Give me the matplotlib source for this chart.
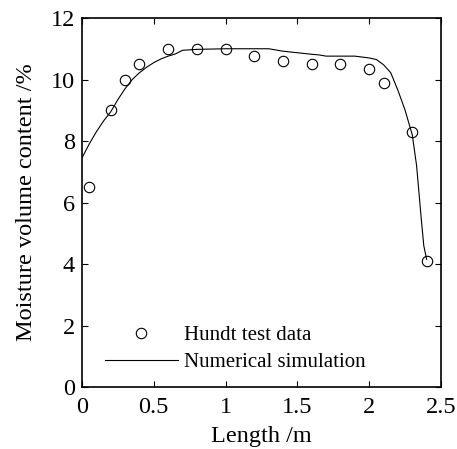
import matplotlib
matplotlib.use('Agg')
import matplotlib.pyplot as plt
import numpy as np

plt.rcParams['font.family'] = ['Liberation Serif', 'DejaVu Serif']
plt.rcParams['mathtext.fontset'] = 'stix'

# Hundt test data
test_x = [0.05, 0.2, 0.3, 0.4, 0.6, 0.8, 1.0, 1.2, 1.4, 1.6, 1.8, 2.0, 2.1, 2.3, 2.4]
test_y = [6.5, 9.0, 10.0, 10.5, 11.0, 11.0, 11.0, 10.75, 10.6, 10.5, 10.5, 10.35, 9.9, 8.3, 4.1]

# Numerical simulation curve
sim_x = [0.0, 0.05, 0.1, 0.15, 0.2, 0.25, 0.3, 0.35, 0.4, 0.45, 0.5, 0.55, 0.6, 0.65,
         0.7, 0.8, 1.0, 1.2, 1.3, 1.4, 1.5, 1.6, 1.65, 1.7, 1.8, 1.9, 2.0, 2.05,
         2.1, 2.15, 2.2, 2.25, 2.3, 2.33, 2.36, 2.38, 2.4]
sim_y = [7.45, 7.9, 8.3, 8.65, 8.95, 9.35, 9.7, 10.0, 10.22, 10.4, 10.55, 10.67, 10.76, 10.83,
         10.95, 10.98, 11.0, 11.0, 11.0, 10.92, 10.87, 10.82, 10.8, 10.76, 10.76, 10.76, 10.7, 10.65,
         10.48, 10.22, 9.65, 9.0, 8.2, 7.2, 5.6, 4.6, 4.15]

fig = plt.figure(figsize=(4.57, 4.49), dpi=100)
ax = fig.add_axes([82 / 457, 1 - 387 / 449, 359 / 457, 369 / 449])

ax.plot(sim_x, sim_y, '-', color='black', linewidth=0.8, label='Numerical simulation')
ax.plot(test_x, test_y, 'o', color='black', markerfacecolor='none', markersize=7.5,
        markeredgewidth=0.8, label='Hundt test data')

ax.set_xlim(0, 2.5)
ax.set_ylim(0, 12)
ax.set_xticks([0, 0.5, 1, 1.5, 2, 2.5])
ax.set_xticklabels(['0', '0.5', '1', '1.5', '2', '2.5'])
ax.set_yticks([0, 2, 4, 6, 8, 10, 12])

ax.tick_params(direction='in', top=True, right=True, length=4, width=0.8,
               labelsize=17.5, pad=5)
ax.tick_params(axis='x', pad=7)
for sp in ax.spines.values():
    sp.set_linewidth(1.2)

ax.set_xlabel('Length /m', fontsize=17.5, labelpad=6)
ax.set_ylabel('Moisture volume content /%', fontsize=17.5, labelpad=10)

handles, labels = ax.get_legend_handles_labels()
ax.legend([handles[1], handles[0]], [labels[1], labels[0]], loc='lower left',
          bbox_to_anchor=(0.064, 0.04), frameon=False, fontsize=15,
          handlelength=3.5, handletextpad=0.3, labelspacing=0.35,
          borderpad=0, borderaxespad=0)

fig.savefig('out.png', dpi=100, facecolor='white')
